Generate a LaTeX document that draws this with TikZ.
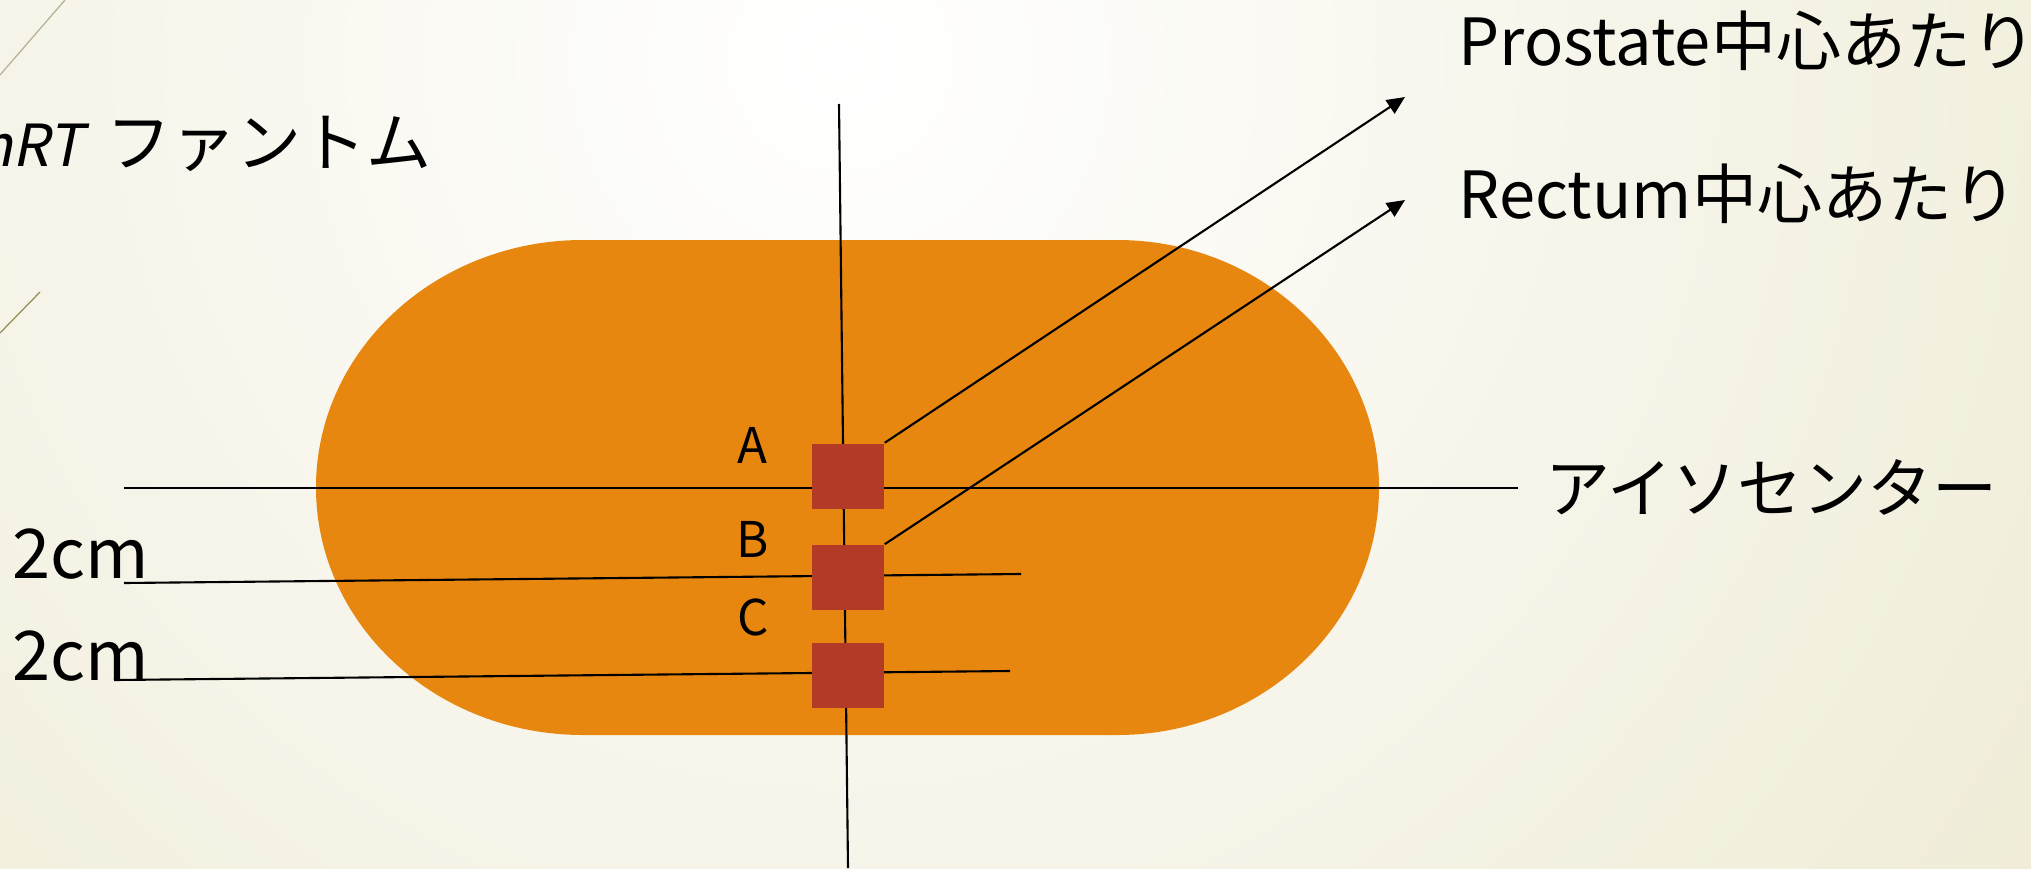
\documentclass[tikz,border=0pt]{standalone}
\usepackage{fontspec}
\setmainfont{Noto Sans CJK JP}
\newfontfamily\slantfont{Noto Sans CJK JP}[FakeSlant=0.2]
\usepackage{tikz}
\usetikzlibrary{positioning,arrows.meta}
\definecolor{phantom}{HTML}{E8870F}
\definecolor{target}{HTML}{B33A27}
\definecolor{bgbeige}{HTML}{E3DDB8}

\begin{document}
\begin{tikzpicture}[x=0.1mm,y=-0.1mm,
  big/.style={font=\fontsize{18.5}{22}\selectfont,inner sep=0pt},
  lbl/.style={font=\fontsize{14}{17}\selectfont,inner sep=0pt},
  sq/.style={fill=target,minimum width=7.2mm,minimum height=6.5mm,inner sep=0pt},
  ln/.style={line width=0.6pt},
  arr/.style={-{Triangle[length=1.8mm,width=1.6mm]},line width=0.6pt}]
\useasboundingbox (0,0) rectangle (2031,868);
% background
\begin{scope}
\clip (0,0) rectangle (2031,868);
\shade[inner color=white,outer color=bgbeige] (840,60) circle (260mm);
\draw[line width=0.35pt,color=black!20!bgbeige] (0,75) -- (65,0);
\draw[line width=0.35pt,color=olive!60!black!70] (0,333) -- (40,292);
\end{scope}
% phantom body
\fill[phantom] (583,240) arc[start angle=90,end angle=270,x radius=26.7mm,y radius=24.75mm]
  -- (1117,735) arc[start angle=-90,end angle=90,x radius=26.2mm,y radius=24.75mm] -- cycle;
% axis lines
\coordinate (vTop) at (839,104); \coordinate (vBot) at (848,868);
\coordinate (isoL) at (124,488); \coordinate (isoR) at (1518,488);
\coordinate (oneL) at (124,583); \coordinate (oneR) at (1021,574);
\coordinate (twoL) at (114,680); \coordinate (twoR) at (1010,671);
\draw[ln] (vTop) -- (vBot);
\draw[ln] (isoL) -- (isoR);
\draw[ln] (oneL) -- (oneR);
\draw[ln] (twoL) -- (twoR);
% measuring points
\node[sq] (sqA) at (848,476) {};
\node[sq,below=3.5mm of sqA] (sqB) {};
\node[sq,below=3.2mm of sqB] (sqC) {};
\node[lbl] (labA) at (752,445) {A};
\node[lbl] (labB) at (753,539) {B};
\node[lbl] (labC) at (753,617) {C};
% texts
\node[big,anchor=east] (title) at (432,144) {{\slantfont\fontsize{16.5}{20}\selectfont mRT}\hspace{0.35em}ファントム};
\node[big,anchor=west] (prostate) at (1458,41) {Prostate中心あたり};
\node[big,anchor=west] (rectum) at (1458,194) {Rectum中心あたり};
\node[big,anchor=west] (iso) at (1545,487) {アイソセンター};
\node[big,font=\fontsize{19.5}{23}\selectfont,anchor=west] (cmA) at (12,554) {2cm};
\node[big,font=\fontsize{19.5}{23}\selectfont,anchor=west] (cmB) at (12,656) {2cm};
\coordinate (pEnd) at (1405,97); \coordinate (rEnd) at (1405,200);
\draw[arr] (sqA.north east) -- (pEnd);
\draw[arr] (sqB.north east) -- (rEnd);
\end{tikzpicture}
\end{document}
